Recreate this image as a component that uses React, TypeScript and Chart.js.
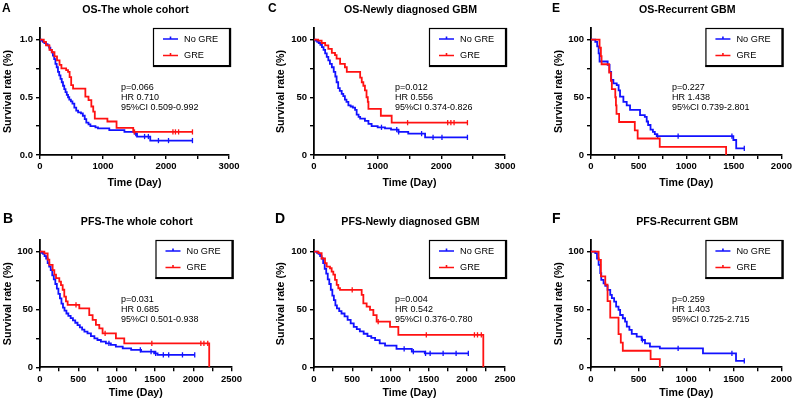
import React, { useEffect, useRef } from 'react';
import { Chart, registerables } from 'chart.js';

Chart.register(...registerables);

const FONT = 'Arial, "Liberation Sans", Helvetica, sans-serif';
const BLUE = '#1212ff';
const RED = '#ff1212';

// ---------- axis ticks ----------
const xTicks3000 = [0, 500, 1000, 1500, 2000, 2500, 3000];
const xLabels3000 = ['0', '', '1000', '', '2000', '', '3000'];
const xTicks2500 = [0, 250, 500, 750, 1000, 1250, 1500, 1750, 2000, 2250, 2500];
const xLabels2500 = ['0', '', '500', '', '1000', '', '1500', '', '2000', '', '2500'];
const xTicks2000 = [0, 250, 500, 750, 1000, 1250, 1500, 1750, 2000];
const xLabels2000 = ['0', '', '500', '', '1000', '', '1500', '', '2000'];
const yTicksFrac = [0, 0.25, 0.5, 0.75, 1];
const yLabelsFrac = ['0.0', '', '0.5', '', '1.0'];
const yTicksPct = [0, 25, 50, 75, 100];
const yLabelsPct = ['0', '', '50', '', '100'];

const legendLabels = ['No GRE', 'GRE'];

// ---------- A: OS, whole cohort (fraction surviving) ----------
const osAllNoT = [0, 20, 45, 70, 95, 120, 145, 165, 185, 205, 225, 245, 265, 285, 305, 325, 345, 365, 385, 405, 425, 445, 465, 490, 515, 545, 575, 605, 650, 680, 710, 735, 770, 800, 880, 920, 1100, 1340, 1500, 1540, 1750];
const osAllNoS = [1, 0.99, 0.98, 0.97, 0.96, 0.95, 0.93, 0.91, 0.89, 0.86, 0.83, 0.79, 0.76, 0.72, 0.69, 0.66, 0.63, 0.6, 0.57, 0.545, 0.52, 0.5, 0.48, 0.465, 0.445, 0.41, 0.385, 0.37, 0.36, 0.34, 0.31, 0.28, 0.265, 0.25, 0.24, 0.23, 0.215, 0.2, 0.185, 0.16, 0.125];
const osAllNoC = [1520, 1660, 1720, 1880, 2040, 2420];
const osAllGreT = [0, 60, 95, 150, 190, 230, 270, 310, 340, 415, 445, 470, 495, 525, 720, 770, 815, 845, 870, 1070, 1215, 1480];
const osAllGreS = [1, 0.98, 0.95, 0.91, 0.89, 0.855, 0.82, 0.78, 0.75, 0.735, 0.72, 0.675, 0.605, 0.575, 0.505, 0.475, 0.42, 0.375, 0.315, 0.29, 0.235, 0.2];
const osAllGreC = [1500, 2110, 2150, 2200, 2420];

// ---------- C: OS, newly diagnosed GBM (%) ----------
const osNewNoT = [0, 25, 50, 75, 100, 125, 150, 175, 200, 225, 250, 280, 310, 335, 355, 380, 405, 435, 460, 485, 510, 540, 575, 610, 645, 670, 700, 725, 800, 855, 905, 1000, 1115, 1210, 1325, 1480, 1745];
const osNewNoS = [100, 99, 98, 97, 95.5, 93.5, 91, 88, 85, 82, 79, 76, 72, 68, 63, 58, 55.5, 53, 51, 48, 46, 43, 42, 41, 39, 35, 33, 31.5, 29.5, 27, 25, 24, 23, 22, 20, 18.5, 15.3];
const osNewNoC = [1060, 1300, 1330, 1690, 1870, 2010, 2410];
const osNewGreT = [0, 65, 120, 175, 225, 280, 330, 355, 410, 485, 515, 725, 750, 775, 800, 825, 845, 855, 1050, 1220];
const osNewGreS = [100, 99, 97, 95, 92, 88.5, 86.5, 83.5, 79, 76, 72, 67, 63, 60, 56, 50, 46, 40, 34, 28];
const osNewGreC = [1470, 2100, 2150, 2200, 2410];

// ---------- E: OS, recurrent GBM (%) ----------
const osRecNoT = [0, 45, 65, 80, 90, 175, 195, 212, 235, 270, 290, 305, 340, 375, 410, 515, 565, 585, 600, 625, 650, 670, 690, 1495, 1525];
const osRecNoS = [100, 98, 94, 88, 81, 78, 72, 65, 62, 60.5, 56, 50.5, 46, 43, 39, 34.5, 33, 29, 26, 22, 20, 18, 16.4, 13, 5.8];
const osRecNoC = [700, 915, 1480, 1610];
const osRecGreT = [0, 90, 104, 111, 191, 209, 219, 255, 262, 268, 295, 460, 490, 722, 1419];
const osRecGreS = [100, 92.9, 85.7, 78.6, 71.4, 64.3, 57.1, 50, 42.9, 35.7, 28.6, 21.4, 14.3, 7.1, 0];
const osRecGreC: number[] = [];

// ---------- B: PFS, whole cohort (%) ----------
const pfsAllNoT = [0, 20, 40, 60, 80, 100, 120, 140, 160, 180, 200, 220, 240, 260, 280, 300, 320, 345, 370, 400, 430, 460, 490, 520, 550, 580, 620, 665, 710, 750, 795, 860, 925, 990, 1080, 1190, 1320, 1490, 1535];
const pfsAllNoS = [100, 99, 98, 96, 94, 90, 87, 84, 79.5, 76, 72, 68, 63.5, 59.5, 55, 51.5, 49, 46.5, 44.5, 42.5, 40.5, 38.5, 36.5, 34.5, 32.5, 30.8, 29.4, 27, 25, 23.6, 22.2, 20.7, 19.3, 17.9, 16.4, 15, 13.5, 12.1, 10.7];
const pfsAllNoC = [900, 1310, 1450, 1510, 1610, 1680, 1860, 2020];
const pfsAllGreT = [0, 57, 100, 122, 165, 187, 209, 252, 274, 296, 317, 339, 361, 513, 643, 687, 730, 774, 817, 991, 1100, 2209];
const pfsAllGreS = [100, 98.5, 93, 88.5, 84, 80, 77, 74, 71, 67, 61, 57, 54, 51, 45, 41, 36.6, 33.7, 29.4, 25, 20.7, 0];
const pfsAllGreC = [470, 850, 1460, 2100, 2140, 2190];

// ---------- D: PFS, newly diagnosed GBM (%) ----------
const pfsNewNoT = [0, 40, 60, 80, 100, 120, 140, 160, 180, 200, 220, 240, 260, 280, 300, 330, 360, 400, 440, 480, 520, 560, 600, 650, 700, 750, 800, 860, 930, 1080, 1280, 1450];
const pfsNewNoS = [100, 99, 98, 96, 94, 90, 85, 81, 76, 72, 67, 62, 58, 53.5, 51, 48.5, 46.5, 44, 41, 38, 35, 33, 31, 29, 27, 25.5, 23.5, 20.7, 18.7, 15.9, 13.5, 12.1];
const pfsNewNoC = [1180, 1300, 1460, 1520, 1690, 1860, 2020];
const pfsNewGreT = [0, 57, 100, 144, 166, 209, 231, 253, 275, 297, 318, 340, 624, 646, 689, 733, 777, 820, 995, 1104, 2216];
const pfsNewGreS = [100, 98.6, 94, 90, 87, 85.6, 82.7, 80, 75.5, 71.2, 68.3, 66.9, 62.5, 55.3, 52.4, 49.6, 45, 39.5, 35, 28, 0];
const pfsNewGreC = [500, 840, 1470, 2100, 2140, 2190];

// ---------- F: PFS, recurrent GBM (%) ----------
const pfsRecNoT = [0, 45, 63, 80, 97, 108, 132, 150, 174, 202, 219, 243, 264, 289, 306, 334, 358, 376, 403, 428, 480, 532, 567, 619, 723, 1176, 1523];
const pfsRecNoS = [100, 98.6, 94, 88.5, 81.3, 75.5, 72.6, 70.3, 66.9, 62.5, 59.7, 56.8, 52.4, 49.6, 45.2, 42.4, 39.5, 35.2, 32.3, 28.8, 26.5, 23.6, 20.7, 17.9, 16.4, 12.1, 5.5];
const pfsRecNoC = [540, 915, 1480, 1610];
const pfsRecGreT = [0, 80, 104, 150, 174, 202, 289, 313, 334, 626, 723];
const pfsRecGreS = [100, 92.9, 78.6, 71.4, 57.1, 42.9, 28.6, 21.4, 14.3, 7.1, 0];
const pfsRecGreC: number[] = [];

// ---------- log-rank / Cox annotations ----------
const statsA = ['p=0.066', 'HR 0.710', '95%CI 0.509-0.992'];
const statsB = ['p=0.031', 'HR 0.685', '95%CI 0.501-0.938'];
const statsC = ['p=0.012', 'HR 0.556', '95%CI 0.374-0.826'];
const statsD = ['p=0.004', 'HR 0.542', '95%CI 0.376-0.780'];
const statsE = ['p=0.227', 'HR 1.438', '95%CI 0.739-2.801'];
const statsF = ['p=0.259', 'HR 1.403', '95%CI 0.725-2.715'];

type Curve = { t: number[]; s: number[]; c: number[] };
type Panel = {
  id: string;
  title: string;
  left: number;
  top: number;
  w: number;
  h: number;
  area: { l: number; r: number; t: number; b: number };
  letterX: number;
  letterBase: number;
  letterSize: number;
  yTitlePad: number;
  xTitlePad: number;
  xMax: number;
  xTicks: number[];
  xLabels: string[];
  yMax: number;
  yTicks: number[];
  yLabels: string[];
  stats: string[];
  noGre: Curve;
  gre: Curve;
};

const TOP_AREA = { t: 28, b: 155 };
const BOT_AREA = { t: 40, b: 167.3 };

const panels: Panel[] = [
  {
    id: 'A', title: 'OS-The whole cohort', left: 0, top: 0, w: 265, h: 200,
    area: { l: 40, r: 229, ...TOP_AREA }, letterX: 2, letterBase: 11.7, letterSize: 12,
    yTitlePad: 1.7, xTitlePad: 11,
    xMax: 3000, xTicks: xTicks3000, xLabels: xLabels3000,
    yMax: 1.1, yTicks: yTicksFrac, yLabels: yLabelsFrac, stats: statsA,
    noGre: { t: osAllNoT, s: osAllNoS, c: osAllNoC }, gre: { t: osAllGreT, s: osAllGreS, c: osAllGreC },
  },
  {
    id: 'C', title: 'OS-Newly diagnosed GBM', left: 265, top: 0, w: 265, h: 200,
    area: { l: 49, r: 240, ...TOP_AREA }, letterX: 3, letterBase: 11.7, letterSize: 12,
    yTitlePad: 10.2, xTitlePad: 11,
    xMax: 3000, xTicks: xTicks3000, xLabels: xLabels3000,
    yMax: 110, yTicks: yTicksPct, yLabels: yLabelsPct, stats: statsC,
    noGre: { t: osNewNoT, s: osNewNoS, c: osNewNoC }, gre: { t: osNewGreT, s: osNewGreS, c: osNewGreC },
  },
  {
    id: 'E', title: 'OS-Recurrent GBM', left: 530, top: 0, w: 264, h: 200,
    area: { l: 61, r: 252, ...TOP_AREA }, letterX: 22, letterBase: 11.7, letterSize: 12,
    yTitlePad: 22.3, xTitlePad: 11,
    xMax: 2000, xTicks: xTicks2000, xLabels: xLabels2000,
    yMax: 110, yTicks: yTicksPct, yLabels: yLabelsPct, stats: statsE,
    noGre: { t: osRecNoT, s: osRecNoS, c: osRecNoC }, gre: { t: osRecGreT, s: osRecGreS, c: osRecGreC },
  },
  {
    id: 'B', title: 'PFS-The whole cohort', left: 0, top: 200, w: 265, h: 202,
    area: { l: 40, r: 231.5, ...BOT_AREA }, letterX: 3, letterBase: 22.7, letterSize: 14,
    yTitlePad: 1.7, xTitlePad: 2.7,
    xMax: 2500, xTicks: xTicks2500, xLabels: xLabels2500,
    yMax: 110, yTicks: yTicksPct, yLabels: yLabelsPct, stats: statsB,
    noGre: { t: pfsAllNoT, s: pfsAllNoS, c: pfsAllNoC }, gre: { t: pfsAllGreT, s: pfsAllGreS, c: pfsAllGreC },
  },
  {
    id: 'D', title: 'PFS-Newly diagnosed GBM', left: 265, top: 200, w: 265, h: 202,
    area: { l: 49, r: 240, ...BOT_AREA }, letterX: 10, letterBase: 22.7, letterSize: 14,
    yTitlePad: 10.2, xTitlePad: 2.7,
    xMax: 2500, xTicks: xTicks2500, xLabels: xLabels2500,
    yMax: 110, yTicks: yTicksPct, yLabels: yLabelsPct, stats: statsD,
    noGre: { t: pfsNewNoT, s: pfsNewNoS, c: pfsNewNoC }, gre: { t: pfsNewGreT, s: pfsNewGreS, c: pfsNewGreC },
  },
  {
    id: 'F', title: 'PFS-Recurrent GBM', left: 530, top: 200, w: 264, h: 202,
    area: { l: 61, r: 252, ...BOT_AREA }, letterX: 22, letterBase: 22.7, letterSize: 14,
    yTitlePad: 22.3, xTitlePad: 2.7,
    xMax: 2000, xTicks: xTicks2000, xLabels: xLabels2000,
    yMax: 110, yTicks: yTicksPct, yLabels: yLabelsPct, stats: statsF,
    noGre: { t: pfsRecNoT, s: pfsRecNoS, c: pfsRecNoC }, gre: { t: pfsRecGreT, s: pfsRecGreS, c: pfsRecGreC },
  },
];

// Kaplan-Meier step value at time x
function stepAt(cv: Curve, x: number): number {
  let v = cv.s[0];
  for (let i = 0; i < cv.t.length; i++) {
    if (cv.t[i] <= x) v = cv.s[i];
    else break;
  }
  return v;
}

function curvePoints(cv: Curve) {
  const pts = cv.t.map((t, i) => ({ x: t, y: cv.s[i] }));
  const lastT = cv.t[cv.t.length - 1];
  const end = Math.max(lastT, ...cv.c);
  if (end > lastT) pts.push({ x: end, y: cv.s[cv.s.length - 1] });
  return pts;
}

function censorPoints(cv: Curve) {
  return cv.c.map((x) => ({ x, y: stepAt(cv, x) }));
}

function lineSet(cv: Curve, color: string, order: number) {
  return {
    type: 'line' as const,
    data: curvePoints(cv),
    stepped: 'before' as const,
    borderColor: color,
    borderWidth: 1.8,
    pointRadius: 0,
    pointHoverRadius: 0,
    fill: false,
    order,
  };
}

function censorSet(cv: Curve, color: string, order: number) {
  return {
    type: 'scatter' as const,
    data: censorPoints(cv),
    showLine: false,
    pointStyle: 'line' as const,
    pointRotation: 90,
    rotation: 90,
    pointRadius: 2.6,
    pointHoverRadius: 2.6,
    borderColor: color,
    pointBorderColor: color,
    backgroundColor: color,
    pointBorderWidth: 1.3,
    borderWidth: 1.3,
    order,
  };
}

function decorPlugin(p: Panel) {
  return {
    id: 'kmDecor' + p.id,
    afterDraw(chart: Chart) {
      const { ctx, chartArea: a } = chart;
      ctx.save();
      ctx.fillStyle = '#000';

      // panel letter
      ctx.textAlign = 'left';
      ctx.textBaseline = 'alphabetic';
      ctx.font = `bold ${p.letterSize}px ${FONT}`;
      ctx.fillText(p.id, p.letterX, p.letterBase);

      // panel title
      ctx.textAlign = 'center';
      ctx.font = `bold 10.6px ${FONT}`;
      ctx.fillText(p.title, (a.left + a.right) / 2 + 1, a.top - 15);

      // statistics
      ctx.textAlign = 'left';
      ctx.textBaseline = 'middle';
      ctx.font = `9px ${FONT}`;
      p.stats.forEach((s, i) => ctx.fillText(s, a.left + 81, a.top + 60 + i * 9.6));

      // legend box
      const bw = 78;
      const bh = 39;
      const bx = a.right + 2 - bw;
      const by = a.top;
      ctx.fillStyle = '#fff';
      ctx.fillRect(bx, by, bw, bh);
      ctx.strokeStyle = '#000';
      ctx.lineWidth = 1.2;
      ctx.strokeRect(bx + 0.5, by + 0.5, bw - 1, bh - 1);
      ctx.lineWidth = 2.2;
      ctx.beginPath();
      ctx.moveTo(bx + bw - 1, by);
      ctx.lineTo(bx + bw - 1, by + bh - 1);
      ctx.lineTo(bx, by + bh - 1);
      ctx.stroke();

      const colors = [BLUE, RED];
      legendLabels.forEach((label, i) => {
        const ry = by + 11 + i * 16.5;
        ctx.strokeStyle = colors[i];
        ctx.lineWidth = 1.6;
        ctx.beginPath();
        ctx.moveTo(bx + 10, ry);
        ctx.lineTo(bx + 25, ry);
        ctx.moveTo(bx + 17.5, ry - 2.5);
        ctx.lineTo(bx + 17.5, ry);
        ctx.stroke();
        ctx.fillStyle = '#000';
        ctx.font = `9.2px ${FONT}`;
        ctx.textBaseline = 'middle';
        ctx.fillText(label, bx + 31, ry);
      });
      ctx.restore();
    },
  };
}

function KMPanel({ p }: { p: Panel }) {
  const ref = useRef<HTMLCanvasElement>(null);

  useEffect(() => {
    if (!ref.current) return;
    const tickFont = { family: FONT, size: 9.5, weight: 'bold' as const };
    const titleFont = { family: FONT, size: 10.6, weight: 'bold' as const };
    const grid = { drawOnChartArea: false, drawTicks: true, tickLength: 4, color: '#000', lineWidth: 1.4 };
    const border = { display: true, color: '#000', width: 1.8 };

    const chart = new Chart(ref.current, {
      type: 'line',
      data: {
        datasets: [
          lineSet(p.noGre, BLUE, 2),
          censorSet(p.noGre, BLUE, 2),
          lineSet(p.gre, RED, 1),
          censorSet(p.gre, RED, 1),
        ] as any,
      },
      options: {
        responsive: false,
        animation: false,
        events: [],
        layout: { padding: { left: 0, top: p.area.t, right: p.w - p.area.r, bottom: 0 } },
        plugins: {
          legend: { display: false },
          title: { display: false },
          tooltip: { enabled: false },
        },
        scales: {
          x: {
            type: 'linear',
            min: 0,
            max: p.xMax,
            afterBuildTicks: (s: any) => {
              s.ticks = p.xTicks.map((v) => ({ value: v }));
            },
            afterFit: (s: any) => {
              s.height = p.h - p.area.b;
            },
            ticks: {
              autoSkip: false,
              maxRotation: 0,
              padding: 2,
              color: '#000',
              font: tickFont,
              callback: (_v: any, i: number) => p.xLabels[i],
            },
            grid,
            border,
            title: {
              display: true,
              text: 'Time (Day)',
              color: '#000',
              font: titleFont,
              padding: { top: 0, bottom: p.xTitlePad },
            },
          },
          y: {
            type: 'linear',
            min: 0,
            max: p.yMax,
            afterBuildTicks: (s: any) => {
              s.ticks = p.yTicks.map((v) => ({ value: v }));
            },
            afterFit: (s: any) => {
              s.width = p.area.l;
            },
            ticks: {
              autoSkip: false,
              padding: 3,
              color: '#000',
              font: tickFont,
              callback: (_v: any, i: number) => p.yLabels[i],
            },
            grid,
            border,
            title: {
              display: true,
              text: 'Survival rate (%)',
              color: '#000',
              font: titleFont,
              padding: { top: p.yTitlePad, bottom: 0 },
            },
          },
        },
      } as any,
      plugins: [decorPlugin(p)],
    });
    return () => chart.destroy();
  }, [p]);

  return (
    <canvas
      ref={ref}
      width={p.w}
      height={p.h}
      style={{ position: 'absolute', left: p.left, top: p.top, width: p.w, height: p.h }}
    />
  );
}

export default function App() {
  return (
    <div style={{ position: 'absolute', left: 0, top: 0, width: 794, height: 402, background: '#fff', overflow: 'hidden' }}>
      {panels.map((p) => (
        <KMPanel key={p.id} p={p} />
      ))}
    </div>
  );
}
